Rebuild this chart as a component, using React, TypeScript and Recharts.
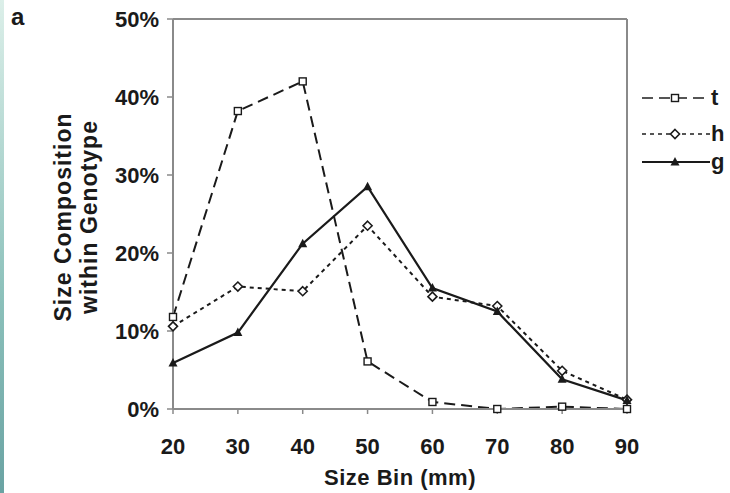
import { LineChart, Line, XAxis, YAxis, Legend, ReferenceLine } from 'recharts';

const sizeBins = [20, 30, 40, 50, 60, 70, 80, 90];
const tValues = [11.8, 38.2, 42.0, 6.1, 0.9, 0.0, 0.3, 0.0];
const hValues = [10.6, 15.7, 15.1, 23.5, 14.4, 13.2, 4.9, 1.2];
const gValues = [5.9, 9.8, 21.2, 28.5, 15.5, 12.5, 3.8, 1.1];
const yTicks = [0, 10, 20, 30, 40, 50];

const data = sizeBins.map((bin, i) => ({ bin, t: tValues[i], h: hValues[i], g: gValues[i] }));

const FONT = '"Liberation Sans", Arial, sans-serif';
const INK = '#1a1a1a';
const AXIS = '#8a8a8a';

type MarkerKind = 't' | 'h' | 'g';

function Marker({ kind, cx, cy }: { kind: MarkerKind; cx: number; cy: number }) {
  if (kind === 't') {
    return <rect x={cx - 3.5} y={cy - 3.5} width={7} height={7} fill="#fff" stroke={INK} strokeWidth={1.4} />;
  }
  if (kind === 'h') {
    return (
      <polygon
        points={`${cx},${cy - 4.5} ${cx + 4.5},${cy} ${cx},${cy + 4.5} ${cx - 4.5},${cy}`}
        fill="#fff"
        stroke={INK}
        strokeWidth={1.6}
      />
    );
  }
  return <polygon points={`${cx},${cy - 5} ${cx + 4.5},${cy + 3.5} ${cx - 4.5},${cy + 3.5}`} fill={INK} />;
}

const series: { key: MarkerKind; dash?: string }[] = [
  { key: 't', dash: '11 6' },
  { key: 'h', dash: '4 4' },
  { key: 'g' },
];

// legend row offsets (px from top of the legend box)
const legendRows = [0, 36, 64];

function LegendBox() {
  return (
    <div style={{ position: 'relative', fontFamily: FONT, fontWeight: 700, fontSize: 22, color: INK, height: 90 }}>
      {series.map((s, i) => (
        <div
          key={s.key}
          style={{ position: 'absolute', top: legendRows[i], left: 0, display: 'flex', alignItems: 'center', height: 24 }}
        >
          <svg width={68} height={14}>
            <line x1={0} y1={7} x2={68} y2={7} stroke={s.key === 'g' ? INK : '#555'} strokeWidth={2} strokeDasharray={s.dash} />
            <Marker kind={s.key} cx={33} cy={7} />
          </svg>
          <span style={{ marginLeft: 1, lineHeight: 1 }}>{s.key}</span>
        </div>
      ))}
    </div>
  );
}

function YLabel() {
  const cy = 217;
  return (
    <g fontFamily={FONT} fontWeight={700} fontSize={23} fill={INK} letterSpacing={1}>
      <text x={63} y={cy} transform={`rotate(-90 63 ${cy})`} textAnchor="middle" dominantBaseline="central">
        Size Composition
      </text>
      <text x={89} y={cy} transform={`rotate(-90 89 ${cy})`} textAnchor="middle" dominantBaseline="central">
        within Genotype
      </text>
    </g>
  );
}

export default function App() {
  return (
    <div style={{ position: 'absolute', left: 0, top: 0, width: 730, height: 493, background: '#fff' }}>
      <div
        style={{
          position: 'absolute',
          left: 0,
          top: 0,
          width: 4,
          height: 493,
          background: 'linear-gradient(#dcefe9, #8cc1bb 60%, #6aa3a3)',
        }}
      />
      <div style={{ position: 'absolute', left: 11, top: 3, fontFamily: FONT, fontWeight: 700, fontSize: 24, color: INK }}>
        a
      </div>
      <LineChart width={730} height={493} data={data} margin={{ top: 19, right: 103, bottom: 0, left: 0 }}>
        <XAxis
          dataKey="bin"
          type="number"
          domain={[20, 90]}
          ticks={sizeBins}
          interval={0}
          height={84}
          axisLine={{ stroke: AXIS, strokeWidth: 2 }}
          tickLine={{ stroke: AXIS, strokeWidth: 1.5 }}
          tickSize={5}
          tick={{ fill: INK, fontFamily: FONT, fontWeight: 700, fontSize: 22, dy: 22 }}
          label={{
            value: 'Size Bin (mm)',
            position: 'insideBottom',
            offset: 8,
            fill: INK,
            fontFamily: FONT,
            fontWeight: 700,
            fontSize: 22,
            letterSpacing: 0.5,
          }}
        />
        <YAxis
          type="number"
          domain={[0, 50]}
          ticks={yTicks}
          interval={0}
          width={173}
          axisLine={{ stroke: AXIS, strokeWidth: 2 }}
          tickLine={{ stroke: AXIS, strokeWidth: 1.5 }}
          tickSize={6}
          tickFormatter={(v) => `${v}%`}
          tick={{ fill: INK, fontFamily: FONT, fontWeight: 700, fontSize: 22, dx: -6 }}
          label={<YLabel />}
        />
        <ReferenceLine y={50} stroke={AXIS} strokeWidth={2} />
        <ReferenceLine x={90} stroke={AXIS} strokeWidth={2} />
        <Legend
          layout="horizontal"
          verticalAlign="middle"
          align="center"
          content={() => <LegendBox />}
          wrapperStyle={{ position: 'absolute', left: 642, top: 86, width: 90 }}
        />
        {series.map((s) => (
          <Line
            key={s.key}
            dataKey={s.key}
            stroke={INK}
            strokeWidth={s.key === 'g' ? 2.2 : 2}
            strokeDasharray={s.dash}
            isAnimationActive={false}
            dot={(p: any) => <Marker key={`${s.key}-${p.index}`} kind={s.key} cx={p.cx} cy={p.cy} />}
            activeDot={false}
          />
        ))}
      </LineChart>
    </div>
  );
}
